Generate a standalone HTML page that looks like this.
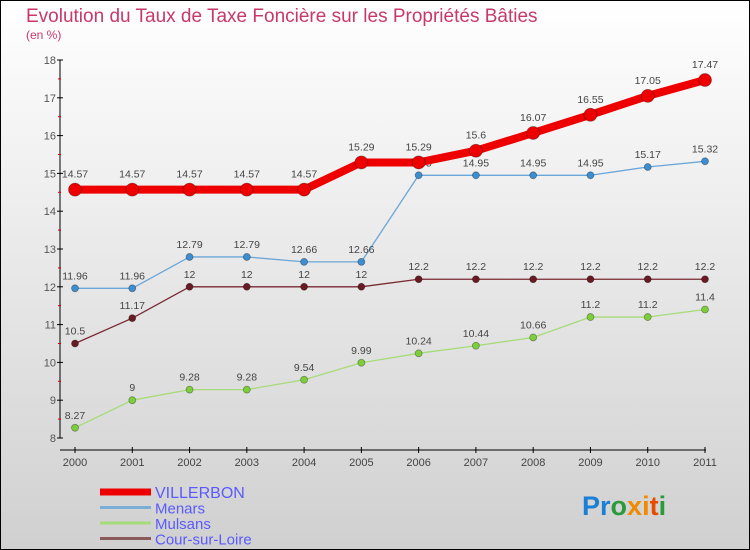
<!DOCTYPE html>
<html><head><meta charset="utf-8"><style>
body{margin:0;width:750px;height:550px;overflow:hidden}
svg{display:block}
text{font-family:"Liberation Sans",sans-serif}
</style></head><body>
<svg id="c" width="750" height="550" xmlns="http://www.w3.org/2000/svg">
<defs><linearGradient id="bg" x1="0" y1="0" x2="0" y2="1"><stop offset="0" stop-color="#ffffff"/><stop offset="1" stop-color="#d0d0d0"/></linearGradient></defs>
<rect x="0.5" y="0.5" width="749" height="549" fill="url(#bg)" stroke="#000"/>
<text x="26" y="22" font-size="19" fill="#c8386a">Evolution du Taux de Taxe Foncière sur les Propriétés Bâties</text>
<text x="26" y="39" font-size="12" fill="#c8386a">(en %)</text>
<g id="axes"></g><g id="series"></g><g id="legend"></g>
<text x="582" y="515" font-size="27" font-weight="bold"><tspan fill="#1b7fd6">Pr</tspan><tspan fill="#2a9a3a">o</tspan><tspan fill="#f08a00">x</tspan><tspan fill="#f08a00">i</tspan><tspan fill="#e84a00">t</tspan><tspan fill="#2a9a3a">i</tspan></text>
</svg>
<script>
const years=[2000,2001,2002,2003,2004,2005,2006,2007,2008,2009,2010,2011];
const villerbon=[14.57,14.57,14.57,14.57,14.57,15.29,15.29,15.6,16.07,16.55,17.05,17.47];
const menars=[11.96,11.96,12.79,12.79,12.66,12.66,14.95,14.95,14.95,14.95,15.17,15.32];
const mulsans=[8.27,9,9.28,9.28,9.54,9.99,10.24,10.44,10.66,11.2,11.2,11.4];
const cour=[10.5,11.17,12,12,12,12,12.2,12.2,12.2,12.2,12.2,12.2];
const yTicks=[8,9,10,11,12,13,14,15,16,17,18];
const NS="http://www.w3.org/2000/svg";
const xs=i=>75+i*(630/11);
const ys=v=>438-(v-8)*37.8;
function mk(p,tag,at){const e=document.createElementNS(NS,tag);for(const k in at)e.setAttribute(k,at[k]);p.appendChild(e);return e;}
const ax=document.getElementById('axes');
let l=mk(ax,'line',{x1:60,y1:60,x2:60,y2:438,stroke:'#000'});

l=mk(ax,'line',{x1:60,y1:450,x2:706,y2:450,stroke:'#000'});

yTicks.forEach(v=>{const y=ys(v);
mk(ax,'line',{x1:57,y1:y,x2:63,y2:y,stroke:'#000'});
if(v<18)mk(ax,'line',{x1:58,y1:y-18.9,x2:61,y2:y-18.9,stroke:'#d00'});
const t=mk(ax,'text',{x:56,y:y+4,'font-size':11,fill:'#555','text-anchor':'end'});t.textContent=v;
});
years.forEach((yr,i)=>{const x=xs(i);
mk(ax,'line',{x1:x,y1:447,x2:x,y2:453,stroke:'#000'});
const t=mk(ax,'text',{x:x,y:466,'font-size':11,fill:'#444','text-anchor':'middle'});t.textContent=yr;
});
const sg=document.getElementById('series');
function series(vals,color,w,r,dot,name,labOff){
const g=mk(sg,'g',{});

const p=mk(g,'polyline',{points:vals.map((v,i)=>xs(i)+','+ys(v)).join(' '),fill:'none',stroke:color,'stroke-width':w,'stroke-linejoin':'round'});
vals.forEach((v,i)=>{const c=mk(g,'circle',{cx:xs(i),cy:ys(v),r:r,fill:dot,stroke:'rgba(0,0,0,0.35)','stroke-width':0.8});

const t=mk(g,'text',{x:xs(i),y:ys(v)+labOff,'font-size':10.5,fill:'#444','text-anchor':'middle'});t.textContent=v;
});}
series(mulsans,'#a6dc78',1.3,3.5,'#7ccf3a','mulsans',-9);
series(cour,'#7a2a33',1.3,3.5,'#6a1a22','cour-sur-loire',-9);
series(menars,'#6aa6d8',1.3,3.5,'#3c8ed0','menars',-9);
series(villerbon,'#ee0000',8,6.5,'#ee0000','villerbon',-12);
const lg=document.getElementById('legend');
const items=[['VILLERBON','#ee0000',7],['Menars','#7aaed6',3],['Mulsans','#a6dc78',3],['Cour-sur-Loire','#8a5a5a',3]];
items.forEach((it,k)=>{const y=492+k*15.5;const g=mk(lg,'g',{});

mk(g,'line',{x1:100,y1:y,x2:151,y2:y,stroke:it[1],'stroke-width':it[2]});
const t=mk(g,'text',{x:155,y:y+6,'font-size':k==0?16:15,fill:'#5a5aff'});t.textContent=it[0];});
</script>
</body></html>
